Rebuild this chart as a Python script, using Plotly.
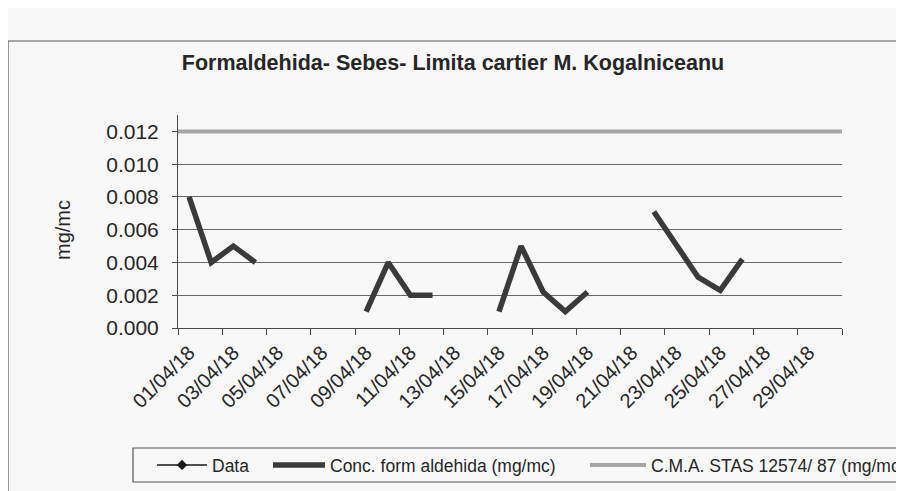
import plotly.graph_objects as go

# ---------------- data ----------------
dates = ["01/04/18", "02/04/18", "03/04/18", "04/04/18", "05/04/18", "06/04/18",
         "07/04/18", "08/04/18", "09/04/18", "10/04/18", "11/04/18", "12/04/18",
         "13/04/18", "14/04/18", "15/04/18", "16/04/18", "17/04/18", "18/04/18",
         "19/04/18", "20/04/18", "21/04/18", "22/04/18", "23/04/18", "24/04/18",
         "25/04/18", "26/04/18", "27/04/18", "28/04/18", "29/04/18", "30/04/18"]

conc = [0.008, 0.004, 0.005, 0.004, None, None, None, None,
        0.001, 0.004, 0.002, 0.002, None, None,
        0.001, 0.005, 0.0022, 0.001, 0.0022, None, None,
        0.0071, 0.0051, 0.0031, 0.0023, 0.0042, None, None, None, None]

data_series = [None] * len(dates)   # "Data" series: legend entry only
cma_limit = [0.012]

y_ticks = [0.000, 0.002, 0.004, 0.006, 0.008, 0.010, 0.012]

title = "Formaldehida- Sebes- Limita cartier M. Kogalniceanu"
name_data = "Data"
name_conc = "Conc. form aldehida (mg/mc)"
name_cma = "C.M.A. STAS 12574/ 87 (mg/mc)"

# ---------------- derived ----------------
pos = list(range(1, len(dates) + 1))
label_pos = pos[::2]
label_txt = dates[::2]
bound_pos = [p - 0.5 for p in pos[::2]] + [pos[-1] + 0.5]

FONT = "Liberation Sans, Arial, sans-serif"
TXT = "#262626"
AX = "#4a4a4a"

# geometry: page is 904x491, the figure sits at the body's 8px offset
OFF = 8
W, H = 904 - OFF, 491 - OFF
# plot area on the page: x 178..842, y 115..328
L, R, T, B = 178 - OFF, W - (842 - OFF), 115 - OFF, H - (328 - OFF)
PW, PH = W - L - R, H - T - B


def px(page_x):
    return (page_x - OFF - L) / PW


def py(page_y):
    return (H - B - (page_y - OFF)) / PH


fig = go.Figure()

fig.add_trace(go.Scatter(
    x=pos, y=data_series, name=name_data, mode="lines+markers",
    line=dict(color="#1a1a1a", width=1.5),
    marker=dict(symbol="diamond", size=8, color="#1a1a1a"),
    legend="legend", connectgaps=False,
))
fig.add_trace(go.Scatter(
    x=pos, y=conc, name=name_conc, mode="lines",
    line=dict(color="#3a3a3a", width=5.5),
    legend="legend2", connectgaps=False,
))

# CMA limit as a full-width horizontal line (with its own legend entry)
fig.add_shape(
    type="line", xref="x domain", yref="y", x0=0, x1=1,
    y0=cma_limit[0], y1=cma_limit[0],
    line=dict(color="#a6a6a6", width=4), layer="above",
    showlegend=True, name=name_cma, legend="legend3",
)

# legend frame
fig.add_shape(type="rect", xref="paper", yref="paper",
              x0=px(133), x1=px(915), y0=py(482), y1=py(448),
              line=dict(color="#555555", width=1.2), layer="below")
# outer chart frame
fig.add_shape(type="rect", xref="paper", yref="paper",
              x0=px(8), x1=px(925), y0=py(520), y1=py(41),
              line=dict(color="#555555", width=1.2), layer="below")

# y-axis title
fig.add_annotation(text="mg/mc", xref="paper", yref="paper",
                   x=px(63), y=py(230), xanchor="center", yanchor="middle",
                   textangle=-90, showarrow=False,
                   font=dict(family=FONT, size=20, color=TXT))

legend_common = dict(orientation="h", yanchor="middle", xanchor="left",
                     y=py(465), bgcolor="rgba(0,0,0,0)", borderwidth=0,
                     font=dict(family=FONT, size=17.5, color=TXT))

fig.update_layout(
    width=W, height=H,
    margin=dict(l=L, r=R, t=T, b=B, autoexpand=False),
    paper_bgcolor="#f8f8f9", plot_bgcolor="#f8f8f9",
    title=dict(text=f"<b>{title}</b>", x=(453 - OFF) / W, xref="container",
               xanchor="center", y=1 - (62 - OFF) / H, yref="container",
               yanchor="middle",
               font=dict(family=FONT, size=21.5, color=TXT)),
    font=dict(family=FONT, color=TXT),
    legend=dict(**legend_common, x=px(152), itemwidth=50),
    legend2=dict(**legend_common, x=px(268), itemwidth=52),
    legend3=dict(**legend_common, x=px(585), itemwidth=56),
    xaxis=dict(range=[0.5, len(dates) + 0.5], tickmode="array",
               tickvals=label_pos, ticktext=label_txt, tickangle=-45,
               ticks="", showgrid=False, zeroline=False,
               showline=True, linecolor=AX, linewidth=1,
               ticklabelstandoff=4,
               tickfont=dict(family=FONT, size=20, color=TXT)),
    xaxis2=dict(range=[0.5, len(dates) + 0.5], overlaying="x", side="bottom",
                tickmode="array", tickvals=bound_pos, showticklabels=False,
                ticks="outside", ticklen=6, tickcolor=AX, tickwidth=1,
                showgrid=False, zeroline=False, showline=False),
    yaxis=dict(range=[0, 0.013], tickmode="array", tickvals=y_ticks,
               tickformat=".3f", showgrid=True, gridcolor="#6a6a6a",
               gridwidth=1, zeroline=False, showline=True, linecolor=AX,
               linewidth=1, ticks="outside", ticklen=5, tickcolor=AX,
               ticklabelstandoff=9,
               tickfont=dict(family=FONT, size=21, color=TXT)),
)

# dummy trace to activate xaxis2 tick axis
fig.add_trace(go.Scatter(x=[pos[0]], y=[None], xaxis="x2", showlegend=False,
                         hoverinfo="skip"))

fig.write_html("out.html")
